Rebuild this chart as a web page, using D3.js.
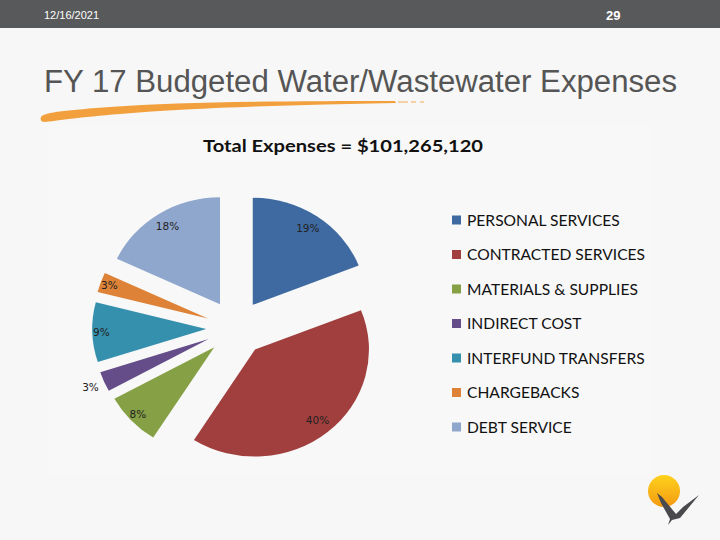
<!DOCTYPE html>
<html>
<head>
<meta charset="utf-8">
<script src="https://cdn.jsdelivr.net/npm/d3@7"></script>
<style>
  body { margin: 0; background: #f7f7f7; }
  svg { display: block; }
</style>
</head>
<body>
<div id="slide"></div>
<script>
// Expense categories and their shares (percent of total)
const categories = [
    "PERSONAL SERVICES",
    "CONTRACTED SERVICES",
    "MATERIALS & SUPPLIES",
    "INDIRECT COST",
    "INTERFUND TRANSFERS",
    "CHARGEBACKS",
    "DEBT SERVICE"
];
const shares = [19, 40, 8, 3, 9, 3, 18];
const sliceColors = ["#3e6aa1", "#a03f3d", "#86a045", "#654d8a", "#3590ad", "#dd8236", "#8fa6cd"];

const totalText = "Total Expenses = $101,265,120";
const titleText = "FY 17 Budgeted Water/Wastewater Expenses";
const dateText = "12/16/2021";
const pageText = "29";

const width = 720, height = 540;

const svg = d3.select("#slide")
    .append("svg")
    .attr("width", width)
    .attr("height", height);

// slide background
svg.append("rect").attr("width", width).attr("height", height).attr("fill", "#f7f7f7");

// top bar
svg.append("rect").attr("width", width).attr("height", 28).attr("fill", "#58595b");
svg.append("text")
    .attr("x", 44).attr("y", 19)
    .attr("fill", "#ffffff")
    .style("font-family", "Liberation Sans, Arial, sans-serif")
    .style("font-size", "11px")
    .text(dateText);
svg.append("text")
    .attr("x", 606).attr("y", 20)
    .attr("fill", "#ffffff")
    .style("font-family", "Liberation Sans, Arial, sans-serif")
    .style("font-size", "13px")
    .style("font-weight", "bold")
    .text(pageText);

// slide title
svg.append("text")
    .attr("x", 44).attr("y", 92)
    .attr("fill", "#555555")
    .attr("textLength", 633)
    .attr("lengthAdjust", "spacingAndGlyphs")
    .style("font-family", "Liberation Sans, Arial, sans-serif")
    .style("font-size", "31px")
    .text(titleText);

// orange brush stroke under the title
svg.append("path")
    .attr("d", "M41,117 C44,112 70,110 110,107 C180,102 280,101 395,101 L396,103 C300,105 200,107 120,114 C80,117 55,121 45,122 C41,122 40,120 41,117 Z")
    .attr("fill", "#f2a03d");
[[398, 408], [411, 416], [420, 424]].forEach(([a, b]) => {
    svg.append("line")
        .attr("x1", a).attr("x2", b).attr("y1", 102).attr("y2", 102)
        .attr("stroke", "#f2a03d").attr("stroke-width", 1.2).attr("opacity", 0.7);
});

// chart area
svg.append("rect")
    .attr("x", 48).attr("y", 125).attr("width", 602).attr("height", 350)
    .attr("fill", "#f8f8f8");

svg.append("text")
    .attr("x", 203).attr("y", 152)
    .attr("fill", "#111111")
    .attr("textLength", 280)
    .attr("lengthAdjust", "spacingAndGlyphs")
    .style("font-family", "Lato, Open Sans, sans-serif")
    .style("font-size", "17px")
    .style("font-weight", "bold")
    .text(totalText);

// Pie
const pieData = categories.map((c, i) => ({ name: c, value: shares[i], color: sliceColors[i] }));
const pie = d3.pie().value(d => d.value).sort(null);
const radius = 107;
const explode = 28;
const arc = d3.arc().innerRadius(0).outerRadius(radius);

// slightly stretched horizontally, as on the slide
const pieGroup = svg.append("g")
    .attr("transform", "translate(236,328) scale(1.065,1)");

const arcs = pie(pieData);
const offset = d => {
    const a = (d.startAngle + d.endAngle) / 2;
    return [Math.sin(a) * explode, -Math.cos(a) * explode];
};

pieGroup.selectAll("path")
    .data(arcs)
    .join("path")
    .attr("transform", d => `translate(${offset(d)})`)
    .attr("d", arc)
    .attr("fill", d => d.data.color);

// label distance from slice tip, relative to radius
const labelFactor = d => {
    if (d.data.name === "INDIRECT COST") return 1.13;
    return d.data.value < 10 ? 0.92 : 0.86;
};

pieGroup.selectAll("text.pct")
    .data(arcs)
    .join("text")
    .attr("class", "pct")
    .attr("transform", d => {
        const a = (d.startAngle + d.endAngle) / 2;
        const [ox, oy] = offset(d);
        const r = radius * labelFactor(d);
        return `translate(${ox + Math.sin(a) * r},${oy - Math.cos(a) * r}) scale(${1 / 1.065},1)`;
    })
    .attr("text-anchor", "middle")
    .attr("dy", "0.35em")
    .attr("fill", "#222222")
    .style("font-family", "DejaVu Sans, sans-serif")
    .style("font-size", "10.5px")
    .text(d => d.data.value + "%");

// Legend
const legend = svg.append("g").attr("transform", "translate(452,220)");
const legendStep = 34.5;

legend.selectAll("rect")
    .data(pieData)
    .join("rect")
    .attr("x", 0)
    .attr("y", (d, i) => i * legendStep - 4.5)
    .attr("width", 9)
    .attr("height", 9)
    .attr("fill", d => d.color);

legend.selectAll("text")
    .data(pieData)
    .join("text")
    .attr("x", 15)
    .attr("y", (d, i) => i * legendStep)
    .attr("dy", "0.36em")
    .attr("fill", "#111111")
    .style("font-family", "Lato, Open Sans, sans-serif")
    .style("font-size", "15.6px")
    .text(d => d.name);

// logo: sun and bird
const defs = svg.append("defs");
const grad = defs.append("linearGradient").attr("id", "sun")
    .attr("x1", 0).attr("y1", 0).attr("x2", 0).attr("y2", 1);
grad.append("stop").attr("offset", "0%").attr("stop-color", "#ffd21c");
grad.append("stop").attr("offset", "100%").attr("stop-color", "#f39a12");
svg.append("circle")
    .attr("cx", 664).attr("cy", 491).attr("r", 16)
    .attr("fill", "url(#sun)");
svg.append("path")
    .attr("d", "M657,493 L662,497 L676,514 L683,507 L699,495 L685,512 L680,518 L672,520 L668,525 L670,519 L661,503 Z")
    .attr("fill", "#4a4a4e");
</script>
</body>
</html>
